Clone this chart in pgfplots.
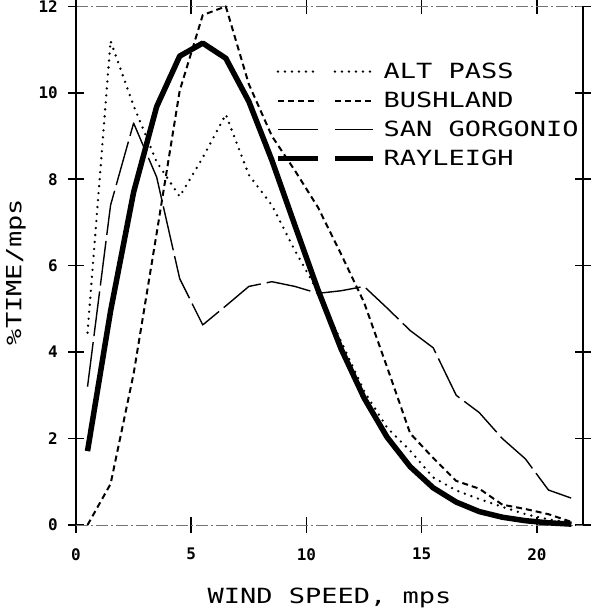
\documentclass[border=0pt]{standalone}
\usepackage{fontspec}
\setmainfont{DejaVu Sans Mono}[FakeStretch=1.29]
\newfontfamily\tickfont{DejaVu Sans Mono}
\usepackage{pgfplots}
\pgfplotsset{compat=1.18}
\begin{document}
\begin{tikzpicture}
\path[use as bounding box] (0,0) rectangle (592bp,612bp);
\begin{axis}[
    at={(76bp,87bp)}, anchor=south west,
    width=507bp, height=518.6bp, scale only axis,
    xmin=0, xmax=22, ymin=0, ymax=12,
    xtick={0,5,10,15,20},
    ytick={0,2,4,6,8,10,12},
    /pgf/number format/assume math mode=true,
    tick align=center,
    major tick length=16bp,
    every tick/.style={black, line width=1.6bp},
    separate axis lines,
    every outer x axis line/.append style={black!55, line width=0.8bp, dash pattern=on 12bp off 3bp on 2bp off 3bp},
    every outer y axis line/.append style={black, line width=1.6bp},
    ticklabel style={font=\tickfont\bfseries\fontsize{16}{16}\selectfont, inner sep=0pt},
    xticklabel style={yshift=-15bp},
    yticklabel style={xshift=-10bp},
    xlabel={WIND SPEED,  mps},
    ylabel={\%TIME/mps},
    label style={font=\fontsize{21}{21}\selectfont},
    xlabel style={at={(axis description cs:0.5,-0.1504)}, anchor=base},
    ylabel style={at={(axis description cs:-0.1183,0.488)}, anchor=center},
    legend image code/.code={
        \draw[#1] (0bp,0bp) -- (40bp,0bp);
        \draw[#1] (57bp,0bp) -- (95bp,0bp);
    },
    legend style={draw=none, fill=none, at={(axis description cs:0.3925,0.895)},
        anchor=north west, inner sep=0pt, row sep=8bp,
        font=\fontsize{21}{21}\selectfont,
        /tikz/every odd column/.append style={column sep=6bp}},
    legend cell align=left,
    every axis plot/.append style={line join=round},
    clip=false,
]
% ALT PASS
\addplot[black, line width=2.6bp, line cap=round, dash pattern=on 0bp off 7bp] coordinates {
    (0.5,4.45) (1.5,11.2) (2.5,9.7) (3.5,8.4) (4.5,7.6) (5.5,8.5) (6.5,9.5)
    (7.5,8.1) (8.5,7.4) (9.5,6.35) (10.5,5.4) (11.5,4.25) (12.5,3.1) (13.5,2.25)
    (14.5,1.72) (15.5,1.1) (16.5,0.8) (17.5,0.6) (18.5,0.42) (19.5,0.25)
    (20.5,0.13) (21.5,0.05)
};
% BUSHLAND
\addplot[black, line width=2bp, dash pattern=on 6bp off 4bp] coordinates {
    (0.5,0) (1.5,0.95) (2.5,3.5) (3.5,6.75) (4.5,10.05) (5.5,11.8) (6.5,12.0)
    (7.5,10.2) (8.5,9.0) (9.5,8.2) (10.5,7.35) (11.5,6.27) (12.5,5.15) (13.5,3.65)
    (14.5,2.12) (15.5,1.55) (16.5,1.02) (17.5,0.84) (18.5,0.47) (19.5,0.37)
    (20.5,0.25) (21.5,0.07)
};
% SAN GORGONIO
\addplot[black, line width=1.4bp, dash pattern=on 45bp off 6bp] coordinates {
    (0.5,3.2) (1.5,7.4) (2.5,9.3) (3.5,8.05) (4.5,5.7) (5.5,4.63) (6.5,5.07)
    (7.5,5.52) (8.5,5.63) (9.5,5.52) (10.5,5.36) (11.5,5.42) (12.5,5.52) (13.5,5.02)
    (14.5,4.5) (15.5,4.1) (16.5,3.0) (17.5,2.6) (18.5,2.0) (19.5,1.53)
    (20.5,0.81) (21.5,0.62)
};
% RAYLEIGH
\addplot[black, line width=5.5bp] coordinates {
    (0.5,1.71) (1.5,4.95) (2.5,7.70) (3.5,9.68) (4.5,10.85) (5.5,11.15) (6.5,10.80)
    (7.5,9.80) (8.5,8.44) (9.5,6.93) (10.5,5.44) (11.5,4.08) (12.5,2.94) (13.5,2.03)
    (14.5,1.35) (15.5,0.86) (16.5,0.53) (17.5,0.31) (18.5,0.18) (19.5,0.10)
    (20.5,0.05) (21.5,0.02)
};
\legend{ALT PASS, BUSHLAND, SAN GORGONIO, RAYLEIGH}
\end{axis}
\end{tikzpicture}
\end{document}
